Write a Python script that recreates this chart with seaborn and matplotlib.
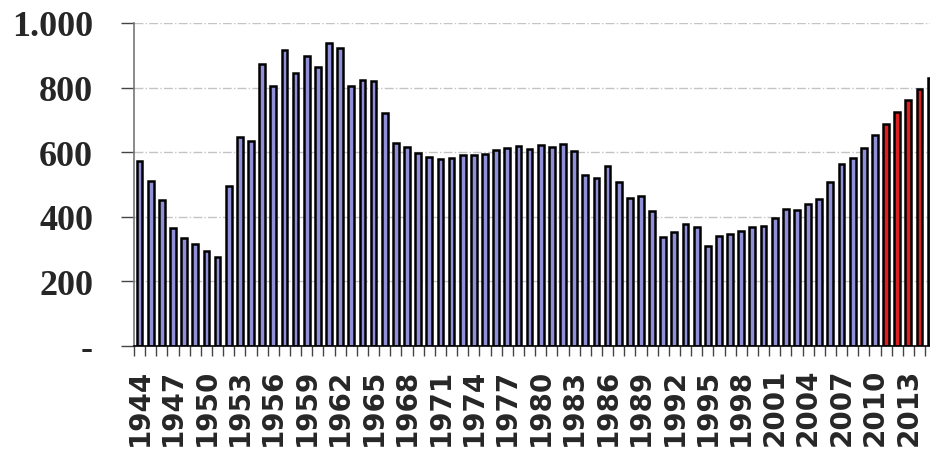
import numpy as np
import pandas as pd
import seaborn as sns
import matplotlib.pyplot as plt
from matplotlib.ticker import FixedLocator

# yearly values
years = list(range(1944, 2016))
values = [571, 509, 452, 364, 334, 314, 294, 274, 495, 646,
          633, 873, 805, 917, 846, 898, 862, 939, 922, 805,
          824, 821, 720, 628, 616, 597, 585, 579, 581, 590,
          590, 594, 606, 611, 618, 609, 622, 615, 625, 602,
          530, 519, 557, 507, 458, 464, 418, 337, 351, 378,
          368, 308, 339, 345, 356, 368, 371, 396, 423, 421,
          438, 455, 508, 562, 583, 612, 653, 687, 725, 760,
          794, 830]
# last years are drawn in red
kind = ['hist' if y <= 2010 else 'proj' for y in years]
colors = {'hist': '#8484E4', 'proj': '#FF0000'}

yticks = [0, 200, 400, 600, 800, 1000]
ytick_labels = ['-', '200', '400', '600', '800', '1.000']

df = pd.DataFrame({'year': [str(y) for y in years], 'value': values, 'kind': kind})

sns.set_style('white')

fig = plt.figure(figsize=(9.3, 4.52), dpi=100)
ax = fig.add_axes([0.1441, 0.233, 0.8626, 0.714])

sns.barplot(data=df, x='year', y='value', hue='kind', palette=colors,
            order=df['year'].tolist(), dodge=False, width=0.52,
            edgecolor='black', linewidth=1.8, legend=False, ax=ax)

ax.set_xlim(-0.5, len(years) - 0.5)
ax.set_ylim(0, 1000)
ax.set_xlabel('')
ax.set_ylabel('')

# grid lines
ax.yaxis.grid(True, linestyle='-.', color='#C4C4C4', linewidth=1.0)
ax.set_axisbelow(True)

# y axis
ax.set_yticks(yticks)
ax.set_yticklabels(ytick_labels, fontfamily=['Liberation Serif'],
                   fontweight='bold', fontsize=26)
ax.tick_params(axis='y', length=9.5, width=1.0, color='#444444', pad=20,
               direction='out', left=True)

# x axis: tick marks at category borders, labels every 3 years
major_pos = list(range(0, len(years), 3))
ax.xaxis.set_major_locator(FixedLocator(major_pos))
ax.set_xticklabels([str(years[i]) for i in major_pos], rotation=90,
                   fontfamily=['DejaVu Sans'], fontweight='bold', fontsize=20)
ax.xaxis.set_minor_locator(FixedLocator(np.arange(-0.5, len(years), 1.0)))
ax.tick_params(axis='x', which='major', length=0, pad=16, bottom=True)
ax.tick_params(axis='x', which='minor', length=7.5, width=1.0,
               color='#444444', bottom=True, direction='out')
for lbl in ax.get_xticklabels():
    lbl.set_va('top')

for side in ['top', 'right']:
    ax.spines[side].set_visible(False)
ax.spines['left'].set_color('#777777')
ax.spines['left'].set_linewidth(1.2)
ax.spines['bottom'].set_color('black')
ax.spines['bottom'].set_linewidth(1.2)

fig.savefig('out.png', dpi=100)
